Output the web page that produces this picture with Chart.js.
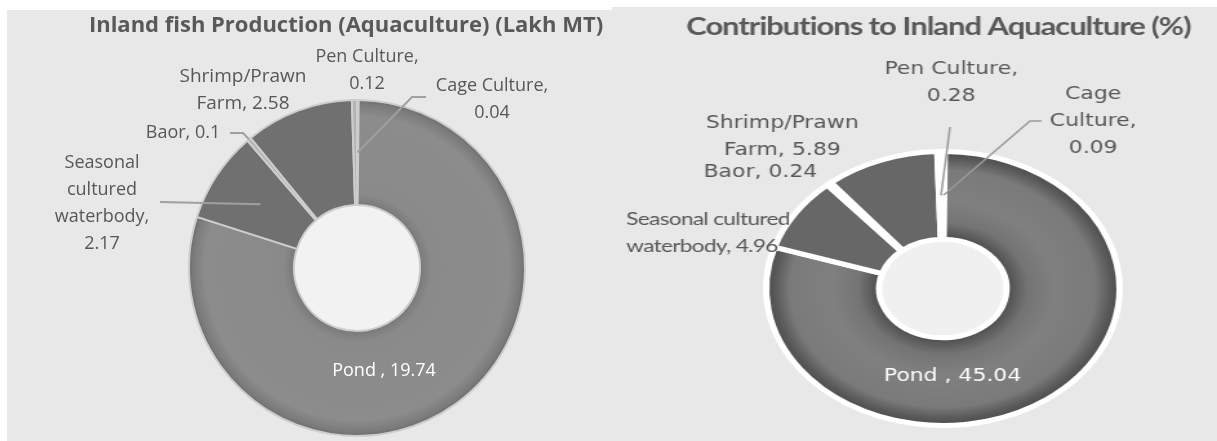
<!DOCTYPE html>
<html>
<head>
<meta charset="utf-8">
<script src="https://cdn.jsdelivr.net/npm/chart.js@4.4.0/dist/chart.umd.min.js"></script>
<style>
  html, body { margin: 0; padding: 0; background: #ffffff; }
  #left { position: absolute; left: 7px; top: 10px; width: 605px; height: 431px; background: #e8e8e8; }
  #right { position: absolute; left: 612px; top: 7px; width: 605px; height: 434px; background: #e8e8e8; overflow: hidden; }
  /* the right picture is stretched sideways in the original */
  #rightInner { width: 469px; height: 434px; transform: scaleX(1.29); transform-origin: 0 0; }
</style>
</head>
<body>
<div id="left"><canvas id="chartLeft" width="605" height="431"></canvas></div>
<div id="right"><div id="rightInner"><canvas id="chartRight" width="469" height="434"></canvas></div></div>
<script>
// slice order runs clockwise from 12 o'clock
var categories = ['Cage Culture', 'Pond', 'Seasonal cultured waterbody', 'Baor', 'Shrimp/Prawn Farm', 'Pen Culture'];
var productionLakhMT = [0.04, 19.74, 2.17, 0.1, 2.58, 0.12];
var contributionPct = [0.09, 45.04, 4.96, 0.24, 5.89, 0.28];

var titleLeft = 'Inland fish Production (Aquaculture) (Lakh MT)';
var titleRight = 'Contributions to Inland Aquaculture (%)';

// Gradient for the big "Pond" slice, the rest plain greys
function sliceFill(colors, stops) {
    return function (context) {
        var area = context.chart.chartArea;
        if (context.dataIndex !== 1 || !area) {
            return colors[context.dataIndex];
        }
        var cx = (area.left + area.right) / 2;
        var cy = (area.top + area.bottom) / 2;
        var r = Math.min(area.right - area.left, area.bottom - area.top) / 2;
        var g = context.chart.ctx.createRadialGradient(cx, cy, 0, cx, cy, r);
        stops.forEach(function (s) { g.addColorStop(s[0], s[1]); });
        return g;
    };
}

function drawText(ctx, text, x, y, font, color, align, spacing) {
    ctx.save();
    ctx.font = font;
    ctx.fillStyle = color;
    ctx.textAlign = align || 'center';
    ctx.textBaseline = 'middle';
    if ('letterSpacing' in ctx) ctx.letterSpacing = spacing || '0px';
    ctx.fillText(text, x, y);
    ctx.restore();
}

// data labels with leader lines, placed like the Excel original
function calloutPlugin(cfg) {
    return {
        id: 'callouts',
        beforeDatasetsDraw: function (chart) {
            var arc = chart.getDatasetMeta(0).data[0];
            var ctx = chart.ctx;
            ctx.save();
            ctx.beginPath();
            ctx.arc(arc.x, arc.y, arc.innerRadius, 0, Math.PI * 2);
            ctx.fillStyle = cfg.holeColor;
            ctx.fill();
            ctx.restore();
        },
        afterDatasetsDraw: function (chart) {
            var ctx = chart.ctx;
            var meta = chart.getDatasetMeta(0);
            var values = chart.data.datasets[0].data;

            drawText(ctx, cfg.title, cfg.titleX, cfg.titleY, cfg.titleFont, '#595959', 'center', cfg.titleSpacing);

            cfg.callouts.forEach(function (c) {
                var arc = meta.data[c.index];
                var lines = c.text.replace('{v}', String(values[c.index])).split('|');
                lines.forEach(function (line, i) {
                    drawText(ctx, line, c.x, c.y + i * cfg.lineHeight, c.font || cfg.font,
                        c.color || '#575757', c.align || 'center', c.spacing);
                });
                if (c.leader) {
                    var end;
                    if (c.leader.to === 'outer') {
                        var mid = (arc.startAngle + arc.endAngle) / 2;
                        end = { x: arc.x + Math.cos(mid) * arc.outerRadius, y: arc.y + Math.sin(mid) * arc.outerRadius };
                    } else {
                        end = arc.tooltipPosition();
                    }
                    ctx.save();
                    ctx.strokeStyle = cfg.leaderColor;
                    ctx.lineWidth = cfg.leaderWidth;
                    ctx.beginPath();
                    c.leader.path.forEach(function (p, i) {
                        if (i === 0) ctx.moveTo(p[0], p[1]); else ctx.lineTo(p[0], p[1]);
                    });
                    ctx.lineTo(end.x, end.y);
                    ctx.stroke();
                    ctx.restore();
                }
            });
        }
    };
}

var leftCallouts = {
    title: titleLeft, titleX: 339, titleY: 16, titleFont: 'bold 22px "Open Sans"',
    font: '18px "Open Sans"', lineHeight: 27, holeColor: '#f2f2f2',
    leaderColor: '#a0a0a0', leaderWidth: 2,
    callouts: [
        { index: 0, text: 'Cage Culture,|{v}', x: 485, y: 76,
          leader: { path: [[419, 87], [405, 87]] } },
        { index: 1, text: 'Pond , {v}', x: 377, y: 361, color: '#ffffff' },
        { index: 2, text: 'Seasonal|cultured|waterbody,|{v}', x: 95, y: 153,
          leader: { path: [[153, 192]] } },
        { index: 3, text: 'Baor, {v}', x: 176, y: 123,
          leader: { path: [[223, 123], [236, 123]], to: 'outer' } },
        { index: 4, text: 'Shrimp/Prawn|Farm, {v}', x: 236, y: 67, font: '19px "Open Sans"' },
        { index: 5, text: 'Pen Culture,|{v}', x: 360, y: 47 }
    ]
};

var rightCallouts = {
    title: titleRight, titleX: 253, titleY: 20, titleFont: 'bold 24px Lato', titleSpacing: '-0.8px',
    font: '17px "DejaVu Sans"', lineHeight: 27, holeColor: '#f0f0f0',
    leaderColor: '#9a9a9a', leaderWidth: 1.5,
    callouts: [
        { index: 0, text: 'Cage|Culture,|{v}', x: 373, y: 88,
          leader: { path: [[333, 114], [324, 114]] } },
        { index: 1, text: 'Pond , {v}', x: 264, y: 370, color: '#ffffff' },
        { index: 2, text: 'Seasonal cultured|waterbody, {v}', x: 11, y: 212, align: 'left',
          font: '17.5px Lato', spacing: '-0.5px' },
        { index: 3, text: 'Baor, {v}', x: 115, y: 166 },
        { index: 4, text: 'Shrimp/Prawn|Farm, {v}', x: 132, y: 117 },
        { index: 5, text: 'Pen Culture,|{v}', x: 263, y: 63,
          leader: { path: [[262, 120]] } }
    ]
};

function makeDoughnut(canvasId, values, colors, stops, border, padding, cutout, callouts) {
    var ctx = document.getElementById(canvasId).getContext('2d');
    return new Chart(ctx, {
        type: 'doughnut',
        data: {
            labels: categories,
            datasets: [{
                data: values,
                backgroundColor: sliceFill(colors, stops),
                borderColor: border.color,
                borderWidth: border.width,
                hoverOffset: 0,
                offset: 0
            }]
        },
        options: {
            responsive: false,
            animation: false,
            cutout: cutout,
            layout: { padding: padding },
            events: [],
            plugins: {
                legend: { display: false },
                tooltip: { enabled: false },
                title: { display: false }
            }
        },
        plugins: [calloutPlugin(callouts)]
    });
}

makeDoughnut('chartLeft', productionLakhMT,
    ['#b4b4b4', '#8b8b8b', '#707070', '#b4b4b4', '#707070', '#b4b4b4'],
    [[0, '#7a7a7a'], [0.375, '#7a7a7a'], [0.44, '#8a8a8a'], [0.9, '#8c8c8c'], [0.97, '#7a7a7a'], [1, '#6a6a6a']],
    { color: '#cdcdcd', width: 2 },
    { left: 181, right: 86, top: 89, bottom: 4 }, '37.5%', leftCallouts);

makeDoughnut('chartRight', contributionPct,
    ['#f4f4f4', '#7a7a7a', '#676767', '#f4f4f4', '#676767', '#f4f4f4'],
    [[0, '#4e4e4e'], [0.36, '#4e4e4e'], [0.47, '#747474'], [0.62, '#808080'], [0.85, '#7a7a7a'], [0.93, '#5a5a5a'], [1, '#474747']],
    { color: '#ffffff', width: 5 },
    { left: 117, right: 73, top: 142, bottom: 13 }, '36%', rightCallouts);
</script>
</body>
</html>
